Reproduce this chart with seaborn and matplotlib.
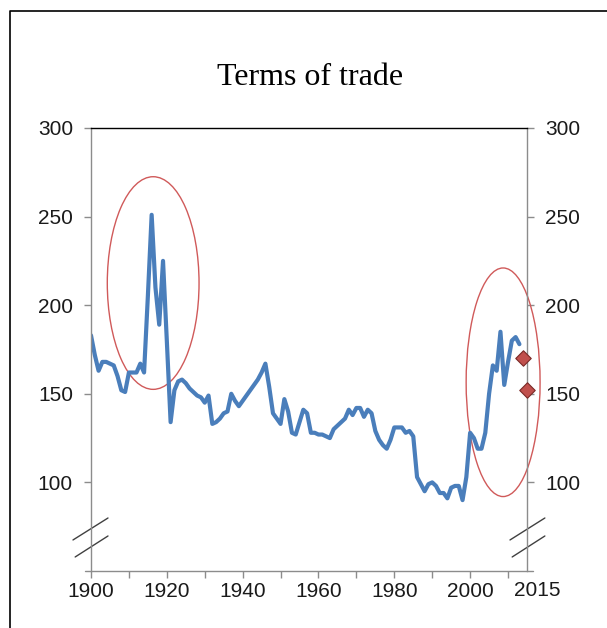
import matplotlib
matplotlib.use("Agg")
import matplotlib.pyplot as plt
import seaborn as sns
import pandas as pd
from matplotlib.lines import Line2D
from matplotlib.patches import Ellipse

# terms of trade index, annual
years = list(range(1900, 2014))
tot = [
    183, 172, 163, 168, 168, 167, 166, 160, 152, 151,   # 1900s
    162, 162, 162, 167, 162, 205, 251, 210, 189, 225,   # 1910s
    180, 134, 152, 157, 158, 156, 153, 151, 149, 148,   # 1920s
    145, 149, 133, 134, 136, 139, 140, 150, 146, 143,   # 1930s
    146, 149, 152, 155, 158, 162, 167, 154, 139, 136,   # 1940s
    133, 147, 140, 128, 127, 134, 141, 139, 128, 128,   # 1950s
    127, 127, 126, 125, 130, 132, 134, 136, 141, 138,   # 1960s
    142, 142, 137, 141, 139, 129, 124, 121, 119, 124,   # 1970s
    131, 131, 131, 128, 129, 126, 103, 99, 95, 99,      # 1980s
    100, 98, 94, 94, 91, 97, 98, 98, 90, 103,           # 1990s
    128, 125, 119, 119, 128, 150, 166, 163, 185, 155,   # 2000s
    168, 180, 182, 178,                                 # 2010s
]

# forecast points
fc_years = [2014, 2015]
fc_values = [170, 152]

y_ticks = [100, 150, 200, 250, 300]
x_ticks = list(range(1900, 2011, 10))
x_labels = [str(y) if y % 20 == 0 else "" for y in x_ticks]

df = pd.DataFrame({"year": years, "tot": tot})
fc = pd.DataFrame({"year": fc_years, "tot": fc_values})

sns.set_theme(style="white")
plt.rcParams["font.family"] = ["Liberation Sans", "DejaVu Sans"]

fig = plt.figure(figsize=(6.07, 6.28), dpi=100)
ax = fig.add_axes([0.1499, 0.0908, 0.7183, 0.7054])

sns.lineplot(data=df, x="year", y="tot", ax=ax, color="#4A7EBB", linewidth=3)
sns.scatterplot(data=fc, x="year", y="tot", ax=ax, marker="D", s=62,
                color="#C0504D", edgecolor="#7A2A27", linewidth=0.8, zorder=5,
                clip_on=False)

# highlight ellipses
ax.add_patch(Ellipse((1916.4, 212.5), 24.2, 120, fill=False,
                     edgecolor="#D05A5A", linewidth=1.0))
ax.add_patch(Ellipse((2008.7, 156.5), 19.5, 129, fill=False,
                     edgecolor="#D05A5A", linewidth=1.0, clip_on=False))

ax.set_xlim(1900, 2015)
ax.set_ylim(50, 300)
ax.set_xticks(x_ticks)
ax.set_xticklabels(x_labels)
ax.set_yticks(y_ticks)
ax.set_xlabel("")
ax.set_ylabel("")

grey = "#8C8C8C"
for side in ["left", "right"]:
    ax.spines[side].set_color(grey)
    ax.spines[side].set_linewidth(1)
ax.spines["top"].set_color("black")
ax.spines["top"].set_linewidth(1)
ax.spines["bottom"].set_visible(False)
ax.add_line(Line2D([-0.014, 1.014], [0, 0], transform=ax.transAxes,
                   color=grey, linewidth=1, clip_on=False))

ax.tick_params(axis="both", which="major", labelsize=15, colors=grey,
               labelcolor="#1a1a1a", length=5, width=1, direction="out")
ax.tick_params(axis="y", left=True, right=True, labelleft=True, labelright=True, pad=8)
ax.tick_params(axis="x", bottom=True, pad=3)

ax.annotate("2015", xy=(2015, 0), xycoords=("data", "axes fraction"),
            xytext=(7.5, -7), textcoords="offset points", ha="center", va="top",
            fontsize=15, color="#1a1a1a", annotation_clip=False)

# axis break marks
brk = dict(transform=ax.transAxes, color="#404040", linewidth=1, clip_on=False)
for x0, x1 in [(-0.0413, 0.039), (0.961, 1.041)]:
    ax.add_line(Line2D([x0, x1], [0.070, 0.1196], **brk))
    ax.add_line(Line2D([x0 + 0.005, x1], [0.0316, 0.079], **brk))

fig.text(0.5115, 0.877, "Terms of trade", ha="center", va="center", color="black",
         fontsize=23, family=["Liberation Serif", "DejaVu Serif"])

# outer frame (open at right and bottom)
fig.add_artist(Line2D([10 / 607, 10 / 607, 1.0], [0.0, 1 - 11 / 628, 1 - 11 / 628],
                      transform=fig.transFigure, color="black", linewidth=1.2))

fig.savefig("out.png", dpi=100)
plt.close(fig)
